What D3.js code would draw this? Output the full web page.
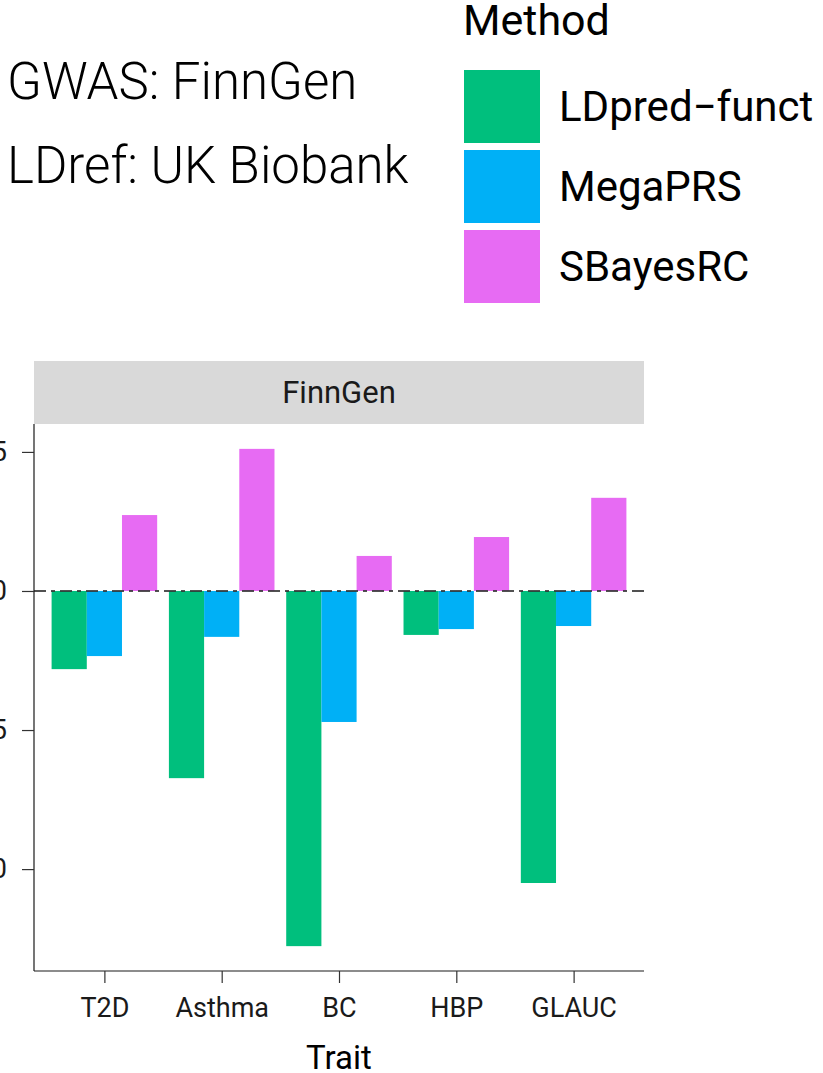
<!DOCTYPE html>
<html>
<head>
<meta charset="utf-8">
<script src="https://cdn.jsdelivr.net/npm/d3@7"></script>
<style>
  body { margin: 0; background: #fff; overflow: hidden; }
  text { font-family: Roboto, "Liberation Sans", sans-serif; }
</style>
</head>
<body>
<div id="chart"></div>
<script>
// data
const traits = ["T2D", "Asthma", "BC", "HBP", "GLAUC"];
const methods = ["LDpred\u2212funct", "MegaPRS", "SBayesRC"];
const colors = ["#00BF7D", "#00B0F6", "#E76BF3"];
const ldpredFunct = [-0.0281, -0.0673, -0.1277, -0.0158, -0.1050];
const megaPRS    = [-0.0234, -0.0165, -0.0471, -0.0137, -0.0126];
const sBayesRC   = [ 0.0273,  0.0511,  0.0126,  0.0194,  0.0335];
const yTicks = [0.05, 0, -0.05, -0.10];

const series = [ldpredFunct, megaPRS, sBayesRC];
const rows = [];
traits.forEach((t, i) => {
  methods.forEach((m, j) => rows.push({ trait: t, method: m, value: series[j][i] }));
});

const W = 823, H = 1073;
const svg = d3.select("#chart").append("svg")
    .attr("width", W)
    .attr("height", H);

// panel edges
const pLeft = 34, pRight = 644, pTop = 424, pBottom = 971;

// ggplot style discrete scale: 0.6 units expand each side, dodge width 0.9
const x = d3.scaleLinear()
    .domain([0.4, traits.length + 0.6])
    .range([pLeft, pRight]);
const unit = x(1) - x(0);
const cx = t => x(traits.indexOf(t) + 1);
const barW = 0.3 * unit;

const ymin = d3.min(rows, d => d.value), ymax = d3.max(rows, d => d.value);
const pad = (ymax - ymin) * 0.05;
const y = d3.scaleLinear()
    .domain([ymin - pad, ymax + pad])
    .range([pBottom, pTop]);

// strip
svg.append("rect")
    .attr("x", pLeft).attr("y", 361)
    .attr("width", pRight - pLeft).attr("height", pTop - 361)
    .attr("fill", "#d9d9d9");
svg.append("text")
    .attr("x", (pLeft + pRight) / 2).attr("y", 403)
    .attr("text-anchor", "middle")
    .attr("font-size", 31)
    .attr("fill", "#1a1a1a")
    .text("FinnGen");

// bars
svg.selectAll(".bar")
    .data(rows)
    .join("rect")
    .attr("class", "bar")
    .attr("x", d => cx(d.trait) - 1.5 * barW + methods.indexOf(d.method) * barW)
    .attr("width", barW)
    .attr("y", d => y(Math.max(0, d.value)))
    .attr("height", d => Math.abs(y(d.value) - y(0)))
    .attr("fill", d => colors[methods.indexOf(d.method)]);

// zero reference line
svg.append("line")
    .attr("x1", pLeft).attr("x2", pRight)
    .attr("y1", y(0)).attr("y2", y(0))
    .attr("stroke", "#333")
    .attr("stroke-opacity", 0.85)
    .attr("stroke-width", 2)
    .attr("stroke-dasharray", "12,5,4,5");

// y axis
const yAxis = svg.append("g")
    .attr("transform", `translate(${pLeft},0)`)
    .call(d3.axisLeft(y).tickValues(yTicks).tickSize(12).tickPadding(15)
        .tickFormat(d => d3.format(".2f")(d).replace("-", "\u2212")));
yAxis.select(".domain").attr("stroke", "#1a1a1a").attr("stroke-width", 1.2)
    .attr("d", `M0,${pTop}V${pBottom}`);
yAxis.selectAll(".tick line").attr("stroke", "#333").attr("stroke-width", 1.2);
yAxis.selectAll(".tick text").attr("font-size", 27).attr("fill", "#1a1a1a")
    .attr("font-family", "Roboto");

// x axis
const xAxis = svg.append("g")
    .attr("transform", `translate(0,${pBottom})`)
    .call(d3.axisBottom(d3.scalePoint().domain(traits)
        .range([cx(traits[0]), cx(traits[traits.length - 1])]))
        .tickSize(12).tickPadding(15));
xAxis.select(".domain").attr("stroke", "#1a1a1a").attr("stroke-width", 1.2)
    .attr("d", `M${pLeft},0H${pRight}`);
xAxis.selectAll(".tick line").attr("stroke", "#333").attr("stroke-width", 1.2);
xAxis.selectAll(".tick text").attr("font-size", 27).attr("fill", "#1a1a1a")
    .attr("font-family", "Roboto");

svg.append("text")
    .attr("x", (pLeft + pRight) / 2).attr("y", 1069)
    .attr("text-anchor", "middle")
    .attr("font-size", 33)
    .attr("fill", "#000")
    .text("Trait");

// annotation
const note = svg.append("g")
    .attr("font-family", "Lato, 'DejaVu Sans', sans-serif")
    .attr("font-weight", 300)
    .attr("font-size", 51)
    .attr("fill", "#000");
note.append("text").attr("x", 7).attr("y", 99).text("GWAS: FinnGen");
note.append("text").attr("x", 7).attr("y", 183).text("LDref: UK Biobank");

// legend
svg.append("text")
    .attr("x", 463).attr("y", 35)
    .attr("font-size", 43)
    .attr("fill", "#000")
    .text("Method");
const lg = svg.selectAll(".lg")
    .data(methods)
    .join("g")
    .attr("class", "lg")
    .attr("transform", (d, i) => `translate(464,${70 + i * 80})`);
lg.append("rect")
    .attr("width", 76).attr("height", 73)
    .attr("fill", (d, i) => colors[i]);
lg.append("text")
    .attr("x", 95).attr("y", 51)
    .attr("font-size", 42)
    .attr("fill", "#000")
    .text(d => d);
</script>
</body>
</html>
